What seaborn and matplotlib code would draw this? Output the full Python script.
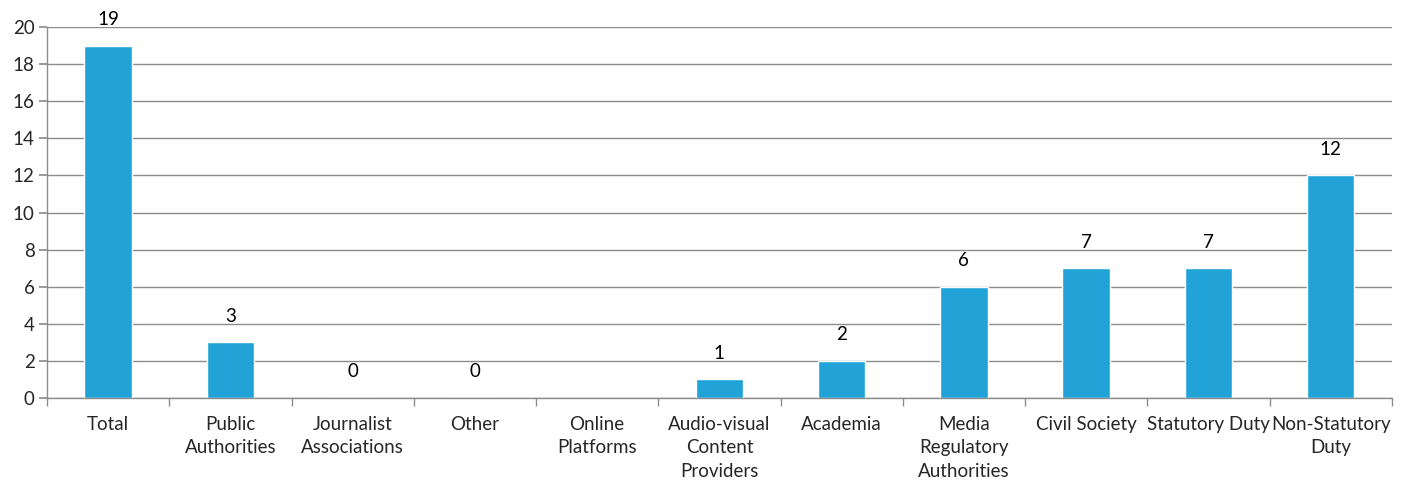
"""Number of respondents per stakeholder group (bar chart)."""

import numpy as np
import pandas as pd
import matplotlib
matplotlib.use("Agg")
import matplotlib.pyplot as plt
import seaborn as sns

categories = [
    "Total", "Public\nAuthorities", "Journalist\nAssociations", "Other",
    "Online\nPlatforms", "Audio-visual\nContent\nProviders", "Academia",
    "Media\nRegulatory\nAuthorities", "Civil Society", "Statutory Duty",
    "Non-Statutory\nDuty",
]
counts = [19, 3, 0, 0, np.nan, 1, 2, 6, 7, 7, 12]
y_ticks = list(range(0, 21, 2))

BAR_COLOR = "#21A3D7"
GRID_COLOR = "#8C8C8C"
FS = 13.5

sns.set_theme(style="white")
plt.rcParams["font.family"] = ["Lato", "DejaVu Sans"]

df = pd.DataFrame({"category": categories, "count": counts})

fig = plt.figure(figsize=(14.03, 4.83), dpi=100)
ax = fig.add_axes([0.0335, 0.176, 0.9585, 0.768])

sns.barplot(data=df, x="category", y="count", color=BAR_COLOR,
            saturation=1, width=0.39, ax=ax)

for i, v in enumerate(counts):
    if not np.isnan(v):
        ax.text(i, v + 0.95, f"{int(v)}", ha="center", va="bottom",
                fontsize=FS, color="black")

ax.set_ylim(0, 20)
ax.set_xlim(-0.5, len(categories) - 0.5)
ax.set_yticks(y_ticks)
ax.set_yticklabels([str(t) for t in y_ticks], fontsize=FS)
ax.yaxis.grid(True, color=GRID_COLOR, linewidth=1)
ax.set_axisbelow(True)

# category labels centred, tick marks at category boundaries
ax.set_xticks(range(len(categories)))
ax.set_xticklabels(categories, fontsize=FS, linespacing=1.45, va="top")
ax.tick_params(axis="x", which="major", length=0, pad=13)
ax.set_xticks(np.arange(-0.5, len(categories)), minor=True)
ax.tick_params(axis="x", which="minor", length=6, color=GRID_COLOR,
               direction="out", bottom=True)
ax.tick_params(axis="y", length=6, color=GRID_COLOR, direction="out",
               left=True, pad=3)

for side in ["top", "right"]:
    ax.spines[side].set_visible(False)
for side in ["left", "bottom"]:
    ax.spines[side].set_color(GRID_COLOR)
    ax.spines[side].set_linewidth(1)

ax.set_xlabel("")
ax.set_ylabel("")

fig.savefig("out.png", dpi=100)
plt.close(fig)
